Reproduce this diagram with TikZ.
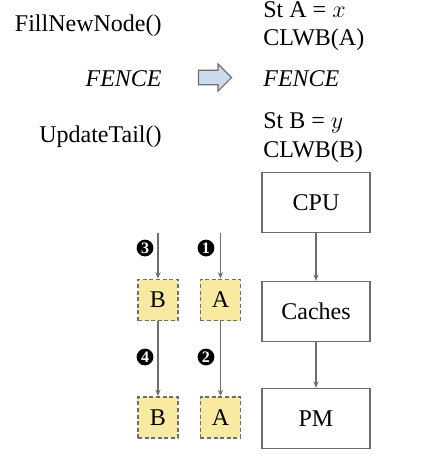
\documentclass[tikz,border=0pt]{standalone}
\usepackage{fontspec}
\setmainfont{Liberation Serif}
\usetikzlibrary{arrows.meta,positioning,shapes.arrows}

\definecolor{cellfill}{RGB}{248,234,160}
\definecolor{edgegray}{RGB}{110,110,110}
\definecolor{fatarrow}{RGB}{205,218,238}

\begin{document}
\begin{tikzpicture}[
  x=0.5pt, y=-0.5pt,
  code/.style={font=\fontsize{12}{14}\selectfont, inner sep=0pt},
  level/.style={draw=edgegray, line width=0.6pt, minimum width=54pt, minimum height=30pt, font=\fontsize{12}{14}\selectfont},
  cell/.style={draw=edgegray, dash pattern=on 2pt off 1.3pt, line width=0.9pt, fill=cellfill, minimum width=20pt, minimum height=20.5pt, font=\fontsize{12}{14}\selectfont},
  order/.style={circle, fill=black, text=white, inner sep=0pt, minimum size=8.4pt, font=\fontsize{8}{9}\selectfont\bfseries},
  flow/.style={-{Stealth[length=3.2pt,width=2.6pt]}, draw=edgegray, line width=0.6pt},
  >=Stealth
]
\useasboundingbox (0,0) rectangle (424,468);

% Code, before and after
\node[code, anchor=base east] (fill) at (162,31) {FillNewNode()};
\node[code, anchor=base east] (fenceL) at (162,86) {\itshape FENCE};
\node[code, anchor=base east] (upd) at (162,142) {UpdateTail()};
\node[code, anchor=base west] (stA) at (263,17) {St A = $x$};
\node[code, anchor=base west] (clwbA) at (263,45) {CLWB(A)};
\node[code, anchor=base west] (fenceR) at (263,86) {\itshape FENCE};
\node[code, anchor=base west] (stB) at (263,128) {St B = $y$};
\node[code, anchor=base west] (clwbB) at (263,157) {CLWB(B)};

% Translation arrow
\node[single arrow, draw=edgegray, fill=fatarrow, line width=0.6pt,
  minimum height=16.5pt, single arrow head extend=3.2pt, inner sep=3.3pt] (xlate) at (211.5,77.5) {};

% Memory hierarchy
\node[level] (cpu) at (316,202.5) {CPU};
\node[level] (cache) at (316,311.5) {Caches};
\node[level] (pm) at (316,418.5) {PM};
\draw[flow] (cpu) -- (cache);
\draw[flow] (cache) -- (pm);

% Cache lines
\node[cell] (bC) at (158,300) {B};
\node[cell] (aC) at (220.5,300) {A};
\node[cell] (bM) at (158,417.5) {B};
\node[cell] (aM) at (220.5,417.5) {A};
\coordinate (bIn) at (158,233);
\coordinate (aIn) at (220.5,233);

\draw[flow] (bIn) -- (bC);
\draw[flow] (aIn) -- (aC);
\draw[flow] (bC) -- (bM);
\draw[flow] (aC) -- (aM);

% Ordering
\node[order] (s3) at (145,248) {3};
\node[order] (s1) at (206,248) {1};
\node[order] (s4) at (145,357) {4};
\node[order] (s2) at (206,357) {2};

\end{tikzpicture}
\end{document}
